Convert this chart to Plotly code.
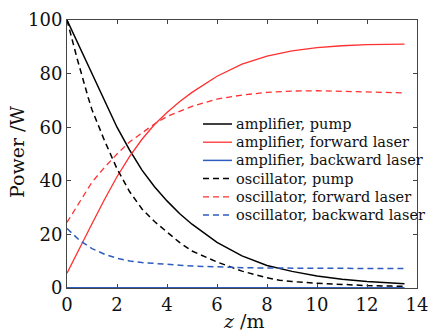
import plotly.graph_objects as go

z = [0, 0.5, 1, 1.5, 2, 2.5, 3, 3.5, 4, 4.5, 5, 6, 7, 8, 9, 10, 11, 12, 13, 13.5]

amp_pump = [100, 90, 80.5, 70.5, 60, 51.5, 44, 37.8, 32.5, 27.8, 23.8, 17.0, 12.0, 8.4, 6.2, 4.5, 3.3, 2.4, 1.8, 1.6]
amp_fwd = [5.5, 15, 24, 33, 41.5, 49, 55.5, 61, 65.5, 69.5, 73, 79, 83.5, 86.5, 88.5, 89.7, 90.4, 90.8, 91, 91]
amp_bwd = [0] * len(z)

z_osc_pump = [0, 0.4, 0.85, 1, 1.5, 2, 2.5, 3, 3.5, 4, 4.5, 5, 6, 7, 8, 8.5, 9, 10, 11, 12, 13, 13.5]
osc_pump = [100, 85.8, 71, 66.5, 55, 44.5, 36, 29.5, 24.8, 20.8, 17, 13.8, 9.7, 6.3, 3.8, 2.9, 2.4, 1.8, 1.3, 0.9, 0.7, 0.6]
osc_fwd = [24.5, 32, 39.5, 45, 50, 54.5, 58, 61.2, 64, 66, 67.8, 70.5, 72, 73, 73.5, 73.6, 73.4, 73.2, 73, 72.8]
osc_bwd = [22.2, 17.8, 14.7, 12.6, 11.1, 10.1, 9.5, 9.1, 8.8, 8.5, 8.2, 7.8, 7.6, 7.45, 7.35, 7.3, 7.3, 7.3, 7.3, 7.3]

x_ticks = [0, 2, 4, 6, 8, 10, 12, 14]
y_ticks = [0, 20, 40, 60, 80, 100]

RED = "#ff3030"
BLUE = "#2f5cbf"
BLACK = "#000000"
FONT = "DejaVu Serif"
DASH = "6px,4px"

W, H = 429, 334
ML, MR, MT, MB = 67, 12, 20, 46
PW, PH = W - ML - MR, H - MT - MB

series = [
    ("amplifier, pump", z, amp_pump, BLACK, 1.5, "solid"),
    ("amplifier, forward laser", z, amp_fwd, RED, 1.3, "solid"),
    ("amplifier, backward laser", z, amp_bwd, BLUE, 2.0, "solid"),
    ("oscillator, pump", z_osc_pump, osc_pump, BLACK, 1.5, DASH),
    ("oscillator, forward laser", z, osc_fwd, RED, 1.3, DASH),
    ("oscillator, backward laser", z, osc_bwd, BLUE, 1.5, DASH),
]

fig = go.Figure()
for name, xs, ys, col, w, dash in series:
    fig.add_trace(go.Scatter(x=xs, y=ys, mode="lines", name=name,
                             line=dict(color=col, width=w, dash=dash),
                             cliponaxis=False, showlegend=False))


def px_x(p):
    return (p - ML) / PW


def px_y(p):
    return 1 - (p - MT) / PH


# manual legend (styling positions in pixels)
leg_x0, leg_x1, leg_tx = 203, 232, 234
leg_y0, leg_dy = 124, 18.2
shapes, annos = [], []
for i, (name, xs, ys, col, w, dash) in enumerate(series):
    yp = px_y(leg_y0 + i * leg_dy)
    shapes.append(dict(type="line", xref="paper", yref="paper",
                       x0=px_x(leg_x0), x1=px_x(leg_x1), y0=yp, y1=yp,
                       line=dict(color=col, width=min(w, 1.5), dash=dash)))
    annos.append(dict(xref="paper", yref="paper", x=px_x(leg_tx), y=yp,
                      xanchor="left", yanchor="middle", text=name, showarrow=False,
                      font=dict(family=FONT, size=14.5, color="#111")))

# axis titles
annos.append(dict(xref="paper", yref="paper", x=px_x(243), y=px_y(334),
                  xanchor="center", yanchor="bottom", text="<i>z</i> /m", showarrow=False,
                  font=dict(family=FONT, size=19, color="#111")))
annos.append(dict(xref="paper", yref="paper", x=px_x(17), y=px_y(152),
                  xanchor="center", yanchor="middle", text="Power /W", showarrow=False,
                  textangle=-90, font=dict(family=FONT, size=19, color="#111")))

axis_common = dict(
    showgrid=False, zeroline=False, showline=True, linecolor="#444", linewidth=1,
    mirror="allticks", ticks="inside", ticklen=4, tickcolor="#444", automargin=False,
    tickfont=dict(family=FONT, size=18, color="#111"),
)

fig.update_layout(
    width=W, height=H,
    margin=dict(l=ML, r=MR, t=MT, b=MB),
    paper_bgcolor="white", plot_bgcolor="white",
    font=dict(family=FONT, color="#111"),
    showlegend=False,
    shapes=shapes, annotations=annos,
    xaxis=dict(range=[0, 14], tickvals=x_ticks, ticktext=[str(v) for v in x_ticks],
               **axis_common),
    yaxis=dict(range=[0, 100], tickvals=y_ticks, ticktext=[str(v) for v in y_ticks],
               **axis_common),
)

fig.write_html("out.html")
